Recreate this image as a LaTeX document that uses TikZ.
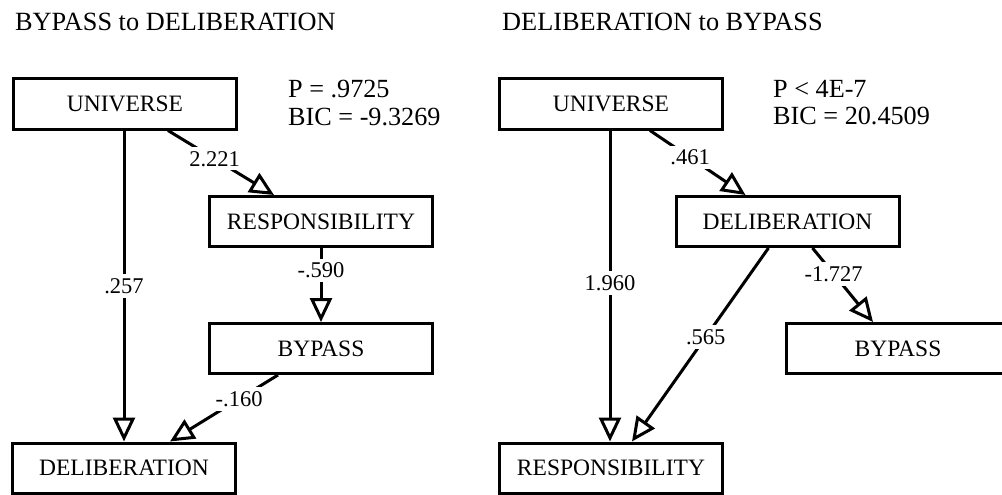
\documentclass[tikz,border=0pt]{standalone}
\usepackage{fontspec}
\setmainfont{Liberation Serif}
\usetikzlibrary{arrows.meta}
\tikzset{
  box/.style={draw, line width=3pt, minimum width=223pt, minimum height=50pt, inner sep=0pt,
    font=\fontsize{23.5}{25}\selectfont},
  arr/.style={line width=3pt, line join=miter, -{Triangle[open, length=24pt, width=22pt]}},
  lbl/.style={fill=white, draw=none, inner xsep=1pt, inner ysep=4pt, font=\fontsize{22.5}{24}\selectfont},
  ttl/.style={anchor=base west, inner sep=0pt, font=\fontsize{26.3}{27}\selectfont},
  stat/.style={anchor=north west, inner sep=0pt, align=left, font=\fontsize{26.2}{27.5}\selectfont}
}
\begin{document}
\begin{tikzpicture}[x=1pt,y=-1pt]
\useasboundingbox (0,0) rectangle (1002,495);
% left panel
\node[ttl] (t1) at (15,31) {BYPASS to DELIBERATION};
\node[box] (u1) at (125,104) {UNIVERSE};
\node[box] (r1) at (321,221.5) {RESPONSIBILITY};
\node[box] (b1) at (321,348.5) {BYPASS};
\node[box] (d1) at (124,468) {DELIBERATION};
\node[stat] (s1) at (288,80) {P = .9725\\BIC = -9.3269};
\draw[arr] (u1.south -| d1.north) -- node[lbl, pos=0.5] {.257} (d1.north);
\draw[arr] ([xshift=43pt]u1.south) -- node[lbl, pos=0.44] {2.221} ([xshift=-47pt]r1.north);
\draw[arr] (r1.south) -- node[lbl, pos=0.3] {-.590} (b1.north);
\draw[arr] ([xshift=-43pt]b1.south) -- node[lbl, pos=0.36] {-.160} ([xshift=46pt]d1.north);
% right panel
\node[ttl] (t2) at (502,31) {DELIBERATION to BYPASS};
\node[box] (u2) at (611,104) {UNIVERSE};
\node[box] (d2) at (787.5,221.5) {DELIBERATION};
\node[box] (b2) at (898,348.5) {BYPASS};
\node[box] (r2) at (611,468) {RESPONSIBILITY};
\node[stat] (s2) at (773,80) {P < 4E-7\\BIC = 20.4509};
\draw[arr] ([xshift=-1pt]u2.south) -- node[lbl, pos=0.49] {1.960} ([xshift=-1pt]r2.north);
\draw[arr] ([xshift=39pt]u2.south) -- node[lbl, pos=0.42] {.461} ([xshift=-42pt]d2.north);
\draw[arr] ([xshift=-19pt]d2.south) -- node[lbl, pos=0.46] {.565} ([xshift=21pt]r2.north);
\draw[arr] ([xshift=25pt]d2.south) -- node[lbl, pos=0.35] {-1.727} ([xshift=-25pt]b2.north);
\end{tikzpicture}
\end{document}
